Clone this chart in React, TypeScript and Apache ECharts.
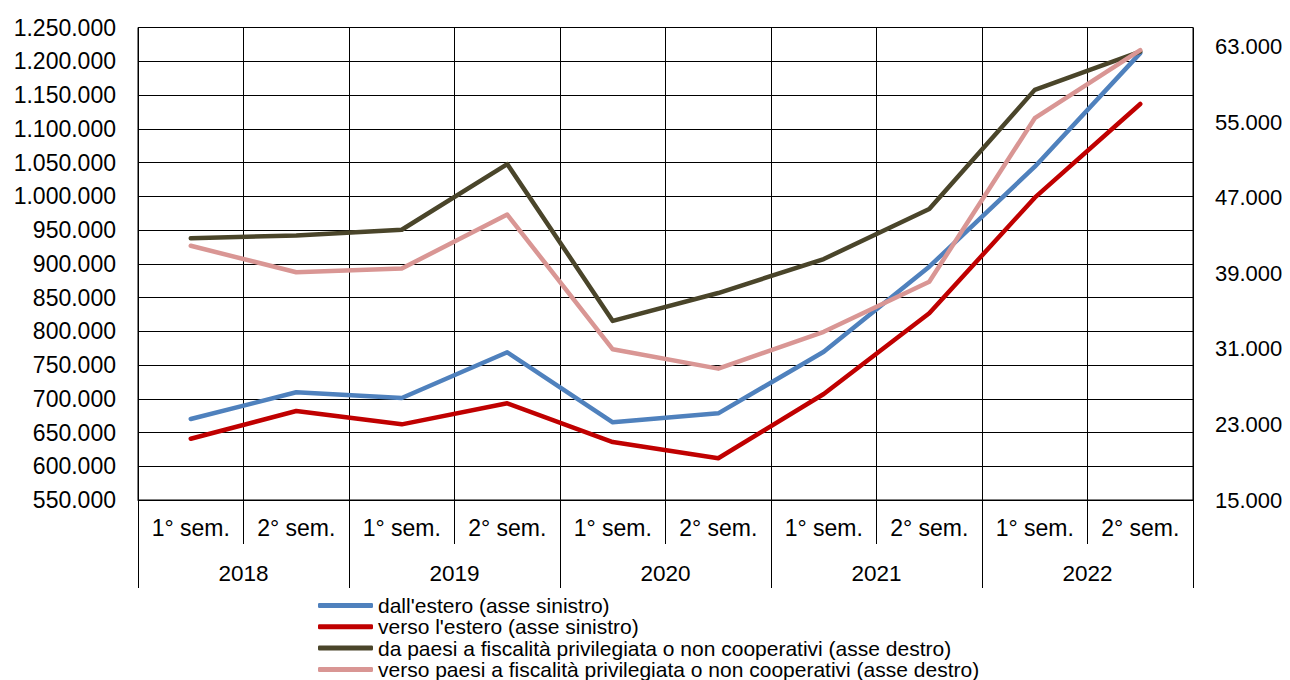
import React, { useEffect, useRef } from "react";
import * as echarts from "echarts";

const semesters = ["1° sem.", "2° sem.", "1° sem.", "2° sem.", "1° sem.", "2° sem.", "1° sem.", "2° sem.", "1° sem.", "2° sem."];
const years = ["2018", "2019", "2020", "2021", "2022"];

const dallEstero = [670000, 709600, 701100, 768800, 665100, 678400, 769700, 895600, 1043800, 1212000];
const versoEstero = [640800, 681900, 662100, 693300, 635900, 611800, 707000, 826600, 997900, 1136700];
const daPaesi = [42700, 43000, 43600, 50550, 33950, 36900, 40500, 45800, 58400, 62450];
const versoPaesi = [41900, 39100, 39500, 45200, 30950, 28900, 32800, 38100, 55400, 62600];

const seriesNames = [
  "dall'estero (asse sinistro)",
  "verso l'estero (asse sinistro)",
  "da paesi a fiscalità privilegiata o non cooperativi (asse destro)",
  "verso paesi a fiscalità privilegiata o non cooperativi (asse destro)",
];
const colors = ["#4F81BD", "#C00000", "#4A452A", "#D99694"];

const fmt = (v: number) => String(Math.round(v)).replace(/\B(?=(\d{3})+(?!\d))/g, ".");
const FONT = "'Liberation Sans', Arial, sans-serif";

export default function App() {
  const ref = useRef<HTMLDivElement>(null);
  useEffect(() => {
    document.body.style.margin = "0";
    if (!ref.current) return;
    const chart = echarts.init(ref.current, undefined, { renderer: "svg" });
    const mk = (i: number, data: number[], yIdx: number) => ({
      name: seriesNames[i],
      type: "line",
      data,
      xAxisIndex: 0,
      yAxisIndex: yIdx,
      symbol: "none",
      lineStyle: { color: colors[i], width: 4.5, cap: "round", join: "round" },
      itemStyle: { color: colors[i] },
    });
    chart.setOption({
      animation: false,
      textStyle: { fontFamily: FONT },
      grid: {
        left: 138,
        right: 97,
        top: 27.5,
        bottom: 180,
        show: true,
        borderColor: "#000",
        borderWidth: 1,
        containLabel: false,
      },
      legend: {
        orient: "vertical",
        left: 318,
        top: 595,
        height: 120,
        padding: 0,
        itemWidth: 55,
        itemHeight: 5,
        itemGap: 0.3,
        icon: "roundRect",
        textStyle: { fontSize: 21, fontFamily: FONT, color: "#000", lineHeight: 20.5 },
        data: seriesNames,
      },
      xAxis: [
        {
          type: "category",
          position: "bottom",
          data: semesters,
          boundaryGap: true,
          axisLine: { show: true, lineStyle: { color: "#000", width: 1 } },
          axisTick: { show: true, interval: 0, length: 44, lineStyle: { color: "#000" } },
          axisLabel: { interval: 0, fontSize: 23, color: "#000", margin: 16, fontFamily: FONT },
          splitLine: { show: true, interval: 0, lineStyle: { color: "#000", width: 1 } },
        },
        {
          type: "category",
          position: "bottom",
          data: years,
          boundaryGap: true,
          axisLine: { show: false },
          axisTick: { show: true, interval: 0, length: 88, lineStyle: { color: "#000" } },
          axisLabel: { interval: 0, fontSize: 22.5, color: "#000", margin: 62, fontFamily: FONT },
          splitLine: { show: false },
        },
      ],
      yAxis: [
        {
          type: "value",
          position: "left",
          min: 550000,
          max: 1250000,
          interval: 50000,
          axisLine: { show: false },
          axisTick: { show: false },
          axisLabel: { fontSize: 23, color: "#000", margin: 22, formatter: fmt, fontFamily: FONT },
          splitLine: { show: true, lineStyle: { color: "#000", width: 1 } },
        },
        {
          type: "value",
          position: "right",
          min: 15000,
          max: 65000,
          interval: 1000,
          axisLine: { show: false },
          axisTick: { show: false },
          axisLabel: {
            fontSize: 22,
            color: "#000",
            margin: 22,
            fontFamily: FONT,
            formatter: (v: number) => ((v - 15000) % 8000 === 0 ? fmt(v) : ""),
          },
          splitLine: { show: false },
        },
      ],
      series: [
        mk(0, dallEstero, 0),
        mk(1, versoEstero, 0),
        mk(2, daPaesi, 1),
        mk(3, versoPaesi, 1),
      ],
    });
    return () => chart.dispose();
  }, []);
  return <div ref={ref} style={{ width: 1290, height: 680 }} />;
}
